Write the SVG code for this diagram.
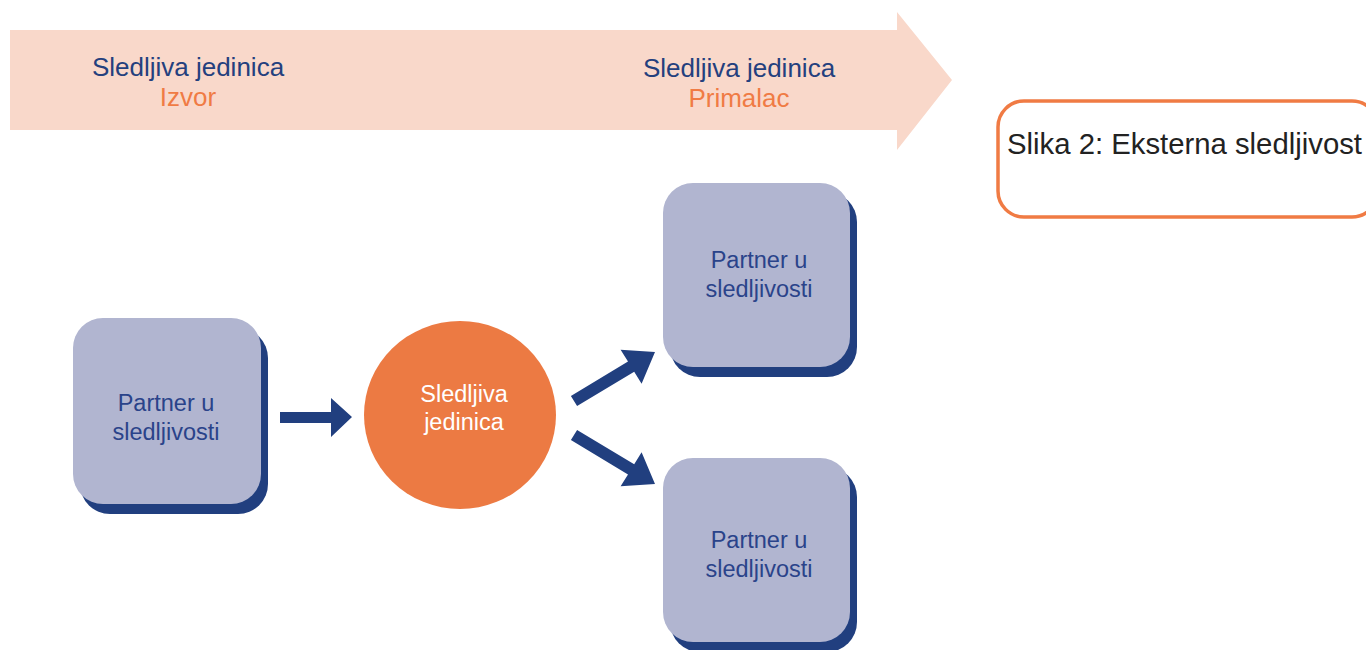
<svg xmlns="http://www.w3.org/2000/svg" width="1366" height="650" viewBox="0 0 1366 650">
<defs>
<style>
.bg{fill:#ffffff}
.band{fill:#f9d8ca}
.head{font-family:"Liberation Sans",Arial,sans-serif;font-size:26px;text-anchor:middle}
.navy{fill:#24407e}
.orange{fill:#f07b44}
.shadow{fill:#213f7f}
.box{fill:#b1b5d0}
.lbl{font-family:"Liberation Sans",Arial,sans-serif;font-size:23.5px;text-anchor:middle;fill:#2a438a}
.wlbl{font-family:"Liberation Sans",Arial,sans-serif;font-size:23.5px;text-anchor:middle;fill:#ffffff}
.conn{fill:#213f7f}
.cap{fill:#ffffff;stroke:#f07b44;stroke-width:3.5}
.captxt{font-family:"Liberation Sans",Arial,sans-serif;font-size:29.3px;fill:#222222}
</style>
</defs>
<rect class="bg" x="0" y="0" width="1366" height="650"/>
<g id="flow-band">
<polygon class="band" points="10,30 897,30 897,12 952,80 897,150 897,130 10,130"/>
<text class="head navy" x="188" y="76">Sledljiva jedinica</text>
<text class="head orange" x="188" y="106">Izvor</text>
<text class="head navy" x="739" y="77">Sledljiva jedinica</text>
<text class="head orange" x="739" y="107">Primalac</text>
</g>
<g id="partner-source">
<rect class="shadow" x="80" y="328" width="188" height="186" rx="30"/>
<rect class="box" x="73" y="318" width="188" height="186" rx="30"/>
<text class="lbl" x="166" y="411">Partner u</text>
<text class="lbl" x="166" y="440">sledljivosti</text>
</g>
<g id="traceable-unit">
<ellipse cx="460" cy="415" rx="96" ry="94" fill="#ec7a43"/>
<text class="wlbl" x="464" y="402">Sledljiva</text>
<text class="wlbl" x="464" y="430">jedinica</text>
</g>
<g id="partner-recipient-1">
<rect class="shadow" x="670" y="192" width="187" height="185" rx="30"/>
<rect class="box" x="663" y="183" width="187" height="184" rx="30"/>
<text class="lbl" x="759" y="268">Partner u</text>
<text class="lbl" x="759" y="297">sledljivosti</text>
</g>
<g id="partner-recipient-2">
<rect class="shadow" x="670" y="467" width="187" height="185" rx="30"/>
<rect class="box" x="663" y="458" width="187" height="184" rx="30"/>
<text class="lbl" x="759" y="548">Partner u</text>
<text class="lbl" x="759" y="577">sledljivosti</text>
</g>
<g id="connectors">
<polygon class="conn" points="280,412 331,412 331,398 352,417 331,437 331,423 280,423"/>
<polygon class="conn" points="570.9,395.9 628,361.6 620.6,349.7 655,352 641.6,383.7 634.2,371.8 577.1,406.1"/>
<polygon class="conn" points="570.9,440.1 628,474.4 620.6,486.3 655,484 641.6,452.3 634.2,464.2 577.1,429.9"/>
</g>
<g id="caption">
<rect class="cap" x="998" y="101" width="380" height="116" rx="26"/>
<text class="captxt" x="1007" y="154">Slika 2: Eksterna sledljivost</text>
</g>
</svg>
